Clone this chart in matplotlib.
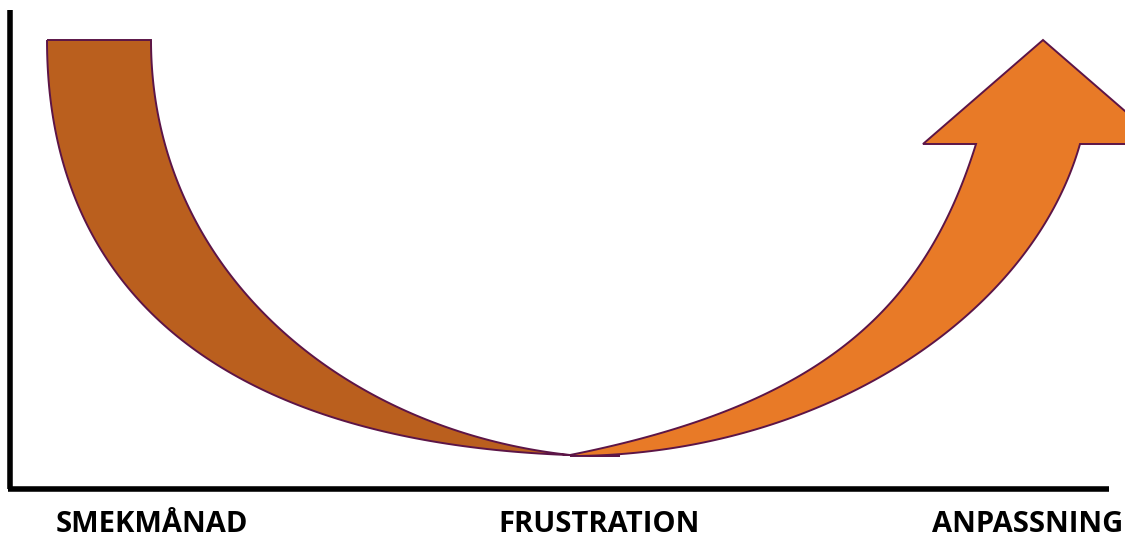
import numpy as np
import matplotlib
matplotlib.use("Agg")
import matplotlib.pyplot as plt
from matplotlib.path import Path
from matplotlib.patches import PathPatch

# stage labels along the bottom
stages = ["SMEKMÅNAD", "FRUSTRATION", "ANPASSNING"]
stage_x = [152, 599, 1123]
stage_ha = ["center", "center", "right"]

# brown band (honeymoon -> frustration), cubic bezier control points
brown_outer = [(47, 40), (47, 310), (248, 456), (620, 456)]
brown_inner = [(151, 40), (151, 268), (340, 430), (570, 455)]

# orange arrow (frustration -> adjustment)
orange_outer = [(570, 456), (820, 456), (1031, 317), (1080, 144)]
orange_inner = [(570, 455), (820, 405), (924, 311), (976, 144)]
arrow_head = [(1080, 144), (1163, 144), (1043, 40), (923, 144), (976, 144)]

brown = "#BA5F1E"
orange = "#E87A27"
edge = "#5C1547"


def bez(p, n=120):
    p = np.array(p, dtype=float)
    t = np.linspace(0, 1, n)[:, None]
    return ((1 - t) ** 3) * p[0] + 3 * ((1 - t) ** 2) * t * p[1] \
        + 3 * (1 - t) * t ** 2 * p[2] + t ** 3 * p[3]


fig = plt.figure(figsize=(11.25, 5.41), dpi=100)
ax = fig.add_axes([0, 0, 1, 1])
ax.set_xlim(0, 1125)
ax.set_ylim(541, 0)
ax.axis("off")

# brown band: outer curve down, then inner curve back up
pts = np.vstack([bez(brown_outer), bez(brown_inner)[::-1]])
ax.add_patch(PathPatch(Path(np.vstack([pts, pts[:1]])), facecolor=brown,
                       edgecolor=edge, lw=1.4, joinstyle="miter"))

# orange arrow: outer curve up, head, inner curve down
pts = np.vstack([bez(orange_outer), np.array(arrow_head[1:], float),
                 bez(orange_inner)[::-1]])
ax.add_patch(PathPatch(Path(np.vstack([pts, pts[:1]])), facecolor=orange,
                       edgecolor=edge, lw=1.4, joinstyle="miter"))

# axes lines
ax.plot([10, 10], [10, 489], color="black", lw=4, solid_capstyle="butt")
ax.plot([8, 1109], [489, 489], color="black", lw=4, solid_capstyle="butt")

for s, x, ha in zip(stages, stage_x, stage_ha):
    ax.text(x, 539, s, ha=ha, va="bottom", fontsize=21, fontweight="bold",
            family=["Open Sans", "DejaVu Sans"], color="black")

fig.savefig("out.png", dpi=100)
